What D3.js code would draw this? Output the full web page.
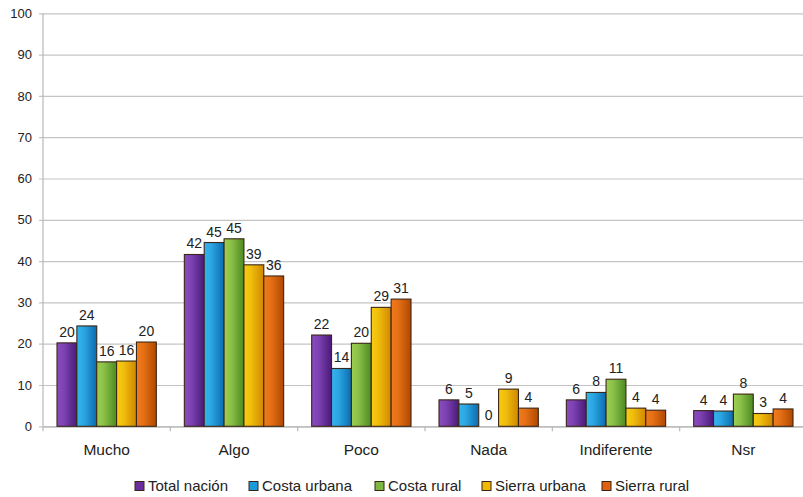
<!DOCTYPE html>
<html>
<head>
<meta charset="utf-8">
<script src="https://cdn.jsdelivr.net/npm/d3@7"></script>
<style>
  html, body { margin: 0; padding: 0; background: #fff; }
  svg { display: block; font-family: "Liberation Sans", Arial, sans-serif; }
</style>
</head>
<body>
<svg id="chart" width="803" height="497"></svg>
<script>
// Response categories along the x axis
const categories = ["Mucho", "Algo", "Poco", "Nada", "Indiferente", "Nsr"];

// Series (regions) shown in the legend
const seriesNames = ["Total nación", "Costa urbana", "Costa rural", "Sierra urbana", "Sierra rural"];

// Percentages per category, one array per series
const totalNacion  = [20.2, 41.6, 22.1, 6.4, 6.4, 3.8];
const costaUrbana  = [24.3, 44.5, 14.0, 5.4, 8.2, 3.7];
const costaRural   = [15.6, 45.4, 20.1, 0.0, 11.4, 7.8];
const sierraUrbana = [15.8, 39.1, 28.8, 9.0, 4.4, 3.1];
const sierraRural  = [20.4, 36.4, 30.8, 4.4, 3.9, 4.2];

// Y axis ticks
const yTicks = [0, 10, 20, 30, 40, 50, 60, 70, 80, 90, 100];

const seriesValues = [totalNacion, costaUrbana, costaRural, sierraUrbana, sierraRural];

// Light/dark shades for each series' horizontal gradient
const shades = [
  ["#8a4cc0", "#4a1a78"],
  ["#34b4ee", "#0a6cb0"],
  ["#9ccf52", "#4c8a22"],
  ["#f8cc10", "#d08600"],
  ["#f27a1c", "#b04800"]
];
const legendColors = ["#6a2e9e", "#1a9ad8", "#7cb842", "#f0b800", "#e06010"];

const svg = d3.select("#chart");
const margin = { left: 43, right: -4, top: 13.3, bottom: 70.7 };
const W = 803, H = 497;

const x0 = d3.scaleBand()
  .domain(categories)
  .range([margin.left, W - margin.right])
  .padding(0);

const bw = x0.bandwidth();
const pad = bw * 0.11;
const x1 = d3.scaleBand()
  .domain(seriesNames)
  .range([pad, bw - pad])
  .padding(0);

const y = d3.scaleLinear()
  .domain([0, 100])
  .range([H - margin.bottom, margin.top]);

// Gradients
const defs = svg.append("defs");
shades.forEach((s, i) => {
  const g = defs.append("linearGradient")
    .attr("id", "grad" + i)
    .attr("x1", "0%").attr("x2", "100%").attr("y1", "0%").attr("y2", "0%");
  g.append("stop").attr("offset", "0%").attr("stop-color", s[0]);
  g.append("stop").attr("offset", "35%").attr("stop-color", d3.interpolateRgb(s[0], s[1])(0.2));
  g.append("stop").attr("offset", "100%").attr("stop-color", s[1]);
});

// Gridlines
const yAxis = d3.axisLeft(y)
  .tickValues(yTicks)
  .tickSize(-(W - margin.left + 10))
  .tickPadding(10)
  .tickFormat(d3.format("d"));

const gy = svg.append("g")
  .attr("transform", `translate(${margin.left - 4},0)`)
  .call(yAxis);
gy.select(".domain").remove();
gy.selectAll(".tick line")
  .attr("x1", 0)
  .attr("x2", W)
  .attr("stroke", "#c4c4c4")
  .attr("stroke-width", 1.2);
gy.selectAll(".tick text")
  .attr("x", -7)
  .attr("fill", "#222")
  .style("font-size", "13px");

// Y axis line
svg.append("line")
  .attr("x1", margin.left).attr("x2", margin.left)
  .attr("y1", y(100)).attr("y2", y(0))
  .attr("stroke", "#b8b8b8").attr("stroke-width", 1.2);

// X axis
const xAxis = d3.axisBottom(x0).tickSize(0).tickPadding(18);
const gx = svg.append("g")
  .attr("transform", `translate(0,${y(0)})`)
  .call(xAxis);
gx.select(".domain").attr("stroke", "#b8b8b8").attr("stroke-width", 1.2);
gx.selectAll(".tick text")
  .attr("fill", "#222")
  .style("font-size", "15.5px");

// Category separator ticks
const sepX = categories.map(c => x0(c));
svg.append("g").selectAll("line")
  .data(sepX)
  .join("line")
  .attr("x1", d => d).attr("x2", d => d)
  .attr("y1", y(0)).attr("y2", y(0) + 5)
  .attr("stroke", "#b8b8b8").attr("stroke-width", 1.2);

// Bars
const groups = svg.append("g").selectAll("g")
  .data(categories)
  .join("g")
  .attr("transform", c => `translate(${x0(c)},0)`);

groups.each(function(c, ci) {
  const g = d3.select(this);
  const data = seriesNames.map((s, si) => ({ s, si, v: seriesValues[si][ci] }));
  g.selectAll("rect")
    .data(data.filter(d => d.v > 0))
    .join("rect")
    .attr("x", d => x1(d.s))
    .attr("width", x1.bandwidth())
    .attr("y", d => y(d.v))
    .attr("height", d => y(0) - y(d.v))
    .attr("fill", d => `url(#grad${d.si})`)
    .attr("stroke", "#3a2616")
    .attr("stroke-width", 1.1);
  g.selectAll("text.val")
    .data(data)
    .join("text")
    .attr("class", "val")
    .attr("x", d => x1(d.s) + x1.bandwidth() / 2)
    .attr("y", d => y(d.v) - 6)
    .attr("text-anchor", "middle")
    .attr("fill", "#222")
    .style("font-size", "14px")
    .text(d => d3.format(".0f")(d.v));
});

// Legend
const legendX = [135, 249, 375, 482, 602];
const legend = svg.append("g").selectAll("g")
  .data(seriesNames)
  .join("g")
  .attr("transform", (d, i) => `translate(${legendX[i]},486)`);
legend.append("rect")
  .attr("x", 0).attr("y", -4.5)
  .attr("width", 9).attr("height", 9)
  .attr("fill", (d, i) => legendColors[i])
  .attr("stroke", "#3a2616").attr("stroke-width", 1);
legend.append("text")
  .attr("x", 13).attr("y", 5)
  .attr("fill", "#222")
  .style("font-size", "15px")
  .text(d => d);
</script>
</body>
</html>
